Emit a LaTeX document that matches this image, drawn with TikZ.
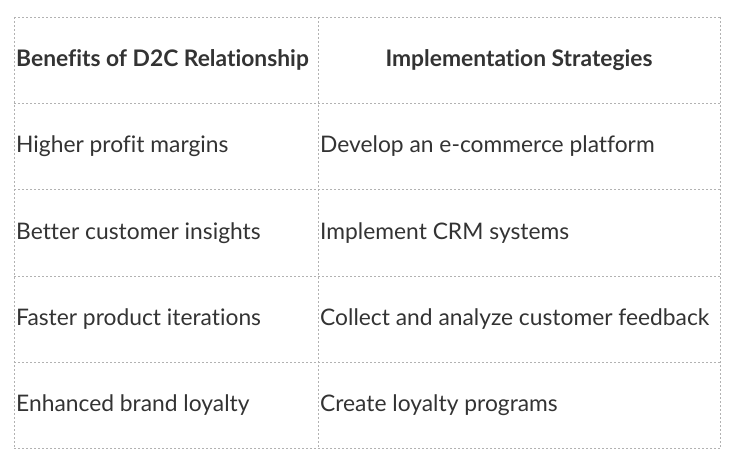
\documentclass[tikz,border=0pt]{standalone}
\usepackage{fontspec}
\setmainfont{Lato}[Ligatures=NoCommon]
\begin{document}
\begin{tikzpicture}[x=1pt,y=-1pt,
  grid/.style={draw=gray!60,dash pattern=on 2pt off 2pt,line width=0.6pt},
  cell/.style={anchor=west,inner sep=0pt,font=\fontsize{22.8}{26}\selectfont,text=black!80},
  head/.style={cell,font=\fontsize{22.8}{26}\selectfont\bfseries}]
\useasboundingbox (0,0) rectangle (744,473);
\foreach \y in {17,103,189,276,362,448} \draw[grid] (14,\y) -- (720,\y);
\foreach \x in {14,318,720} \draw[grid] (\x,17) -- (\x,448);
\node[head] (h1) at (16,60) {Benefits of D2C Relationship};
\node[head,anchor=center] (h2) at (519,60) {Implementation Strategies};
\node[cell] (a1) at (16,146) {Higher profit margins};
\node[cell] (b1) at (320,146) {Develop an e-commerce platform};
\node[cell] (a2) at (16,233) {Better customer insights};
\node[cell] (b2) at (320,233) {Implement CRM systems};
\node[cell] (a3) at (16,319) {Faster product iterations};
\node[cell] (b3) at (320,319) {Collect and analyze customer feedback};
\node[cell] (a4) at (16,405) {Enhanced brand loyalty};
\node[cell] (b4) at (320,405) {Create loyalty programs};
\end{tikzpicture}
\end{document}
